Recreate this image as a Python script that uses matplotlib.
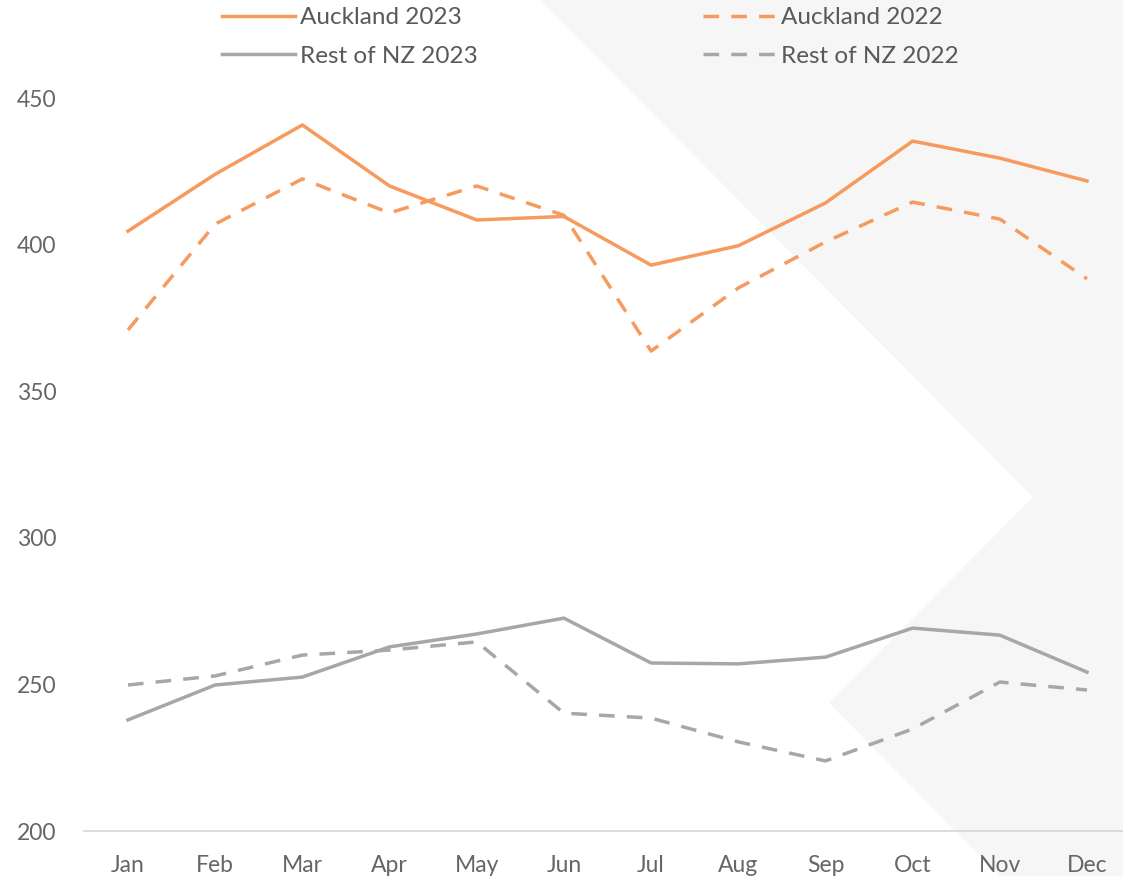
import matplotlib
matplotlib.use("Agg")
import matplotlib.pyplot as plt
from matplotlib.patches import Polygon

months = ["Jan", "Feb", "Mar", "Apr", "May", "Jun", "Jul", "Aug", "Sep", "Oct", "Nov", "Dec"]
auckland_2023 = [404.6, 424.0, 440.8, 420.0, 408.4, 409.6, 393.0, 399.6, 414.2, 435.3, 429.5, 421.7]
auckland_2022 = [370.9, 407.0, 422.4, 410.8, 420.0, 410.0, 363.7, 385.2, 400.9, 414.5, 408.7, 388.3]
rest_2023 = [237.9, 249.8, 252.5, 262.8, 267.2, 272.6, 257.3, 257.0, 259.3, 269.2, 266.8, 254.2]
rest_2022 = [249.8, 252.9, 260.0, 261.7, 264.5, 240.2, 238.5, 230.4, 223.9, 234.8, 250.8, 248.1]
yticks = [200, 250, 300, 350, 400, 450]

W, H = 1123, 876
plt.rcParams['font.family'] = ['Lato', 'DejaVu Sans']
fig = plt.figure(figsize=(W / 100, H / 100), dpi=100)

# background chevron shape (figure pixel coords)
pts = [(540, 0), (1123, 0), (1123, 876), (1000, 876), (829, 703), (1033, 497)]
poly = Polygon([(x / W, 1 - y / H) for x, y in pts], closed=True,
               transform=fig.transFigure, facecolor="#f6f6f6", edgecolor="none", zorder=-10)
fig.patches.append(poly)

left = 84.4 / W
width = 1046.2 / W
bottom = 1 - 831 / H
top = 1 - 98 / H
ax = fig.add_axes([left, bottom, width, top - bottom])
ax.set_facecolor("none")

orange = "#F79A5E"
grey = "#A7A7A9"
lw = 2.5
x = list(range(len(months)))
ax.plot(x, auckland_2023, color=orange, lw=lw, label="Auckland 2023", solid_joinstyle="round")
ax.plot(x, rest_2023, color=grey, lw=lw, label="Rest of NZ 2023", solid_joinstyle="round")
ax.plot(x, auckland_2022, color=orange, lw=lw, ls=(0, (4.5, 3.5)), label="Auckland 2022")
ax.plot(x, rest_2022, color=grey, lw=lw, ls=(0, (4.5, 3.5)), label="Rest of NZ 2022")

ax.set_xlim(-0.5, len(months) - 0.5)
ax.set_ylim(200, 450)
ax.set_yticks(yticks)
ax.set_xticks(x)
ax.set_xticklabels(months)
for s in ["left", "right", "top"]:
    ax.spines[s].set_visible(False)
ax.spines["bottom"].set_color("#d9d9d9")
ax.spines["bottom"].set_linewidth(1.3)
ax.tick_params(axis="both", length=0, labelsize=16.5, labelcolor="#666666")
ax.tick_params(axis="y", pad=20)
ax.tick_params(axis="x", pad=17)

handles, labels = ax.get_legend_handles_labels()
leg = fig.legend(handles, labels, ncol=2, loc="upper left",
                 bbox_to_anchor=(200 / W, 1 - (-14.6) / H), frameon=False,
                 fontsize=17.5, handlelength=3.0, handletextpad=0.2,
                 columnspacing=9.28, labelspacing=0.71, labelcolor="#595959")

fig.savefig("out.png", dpi=100)
